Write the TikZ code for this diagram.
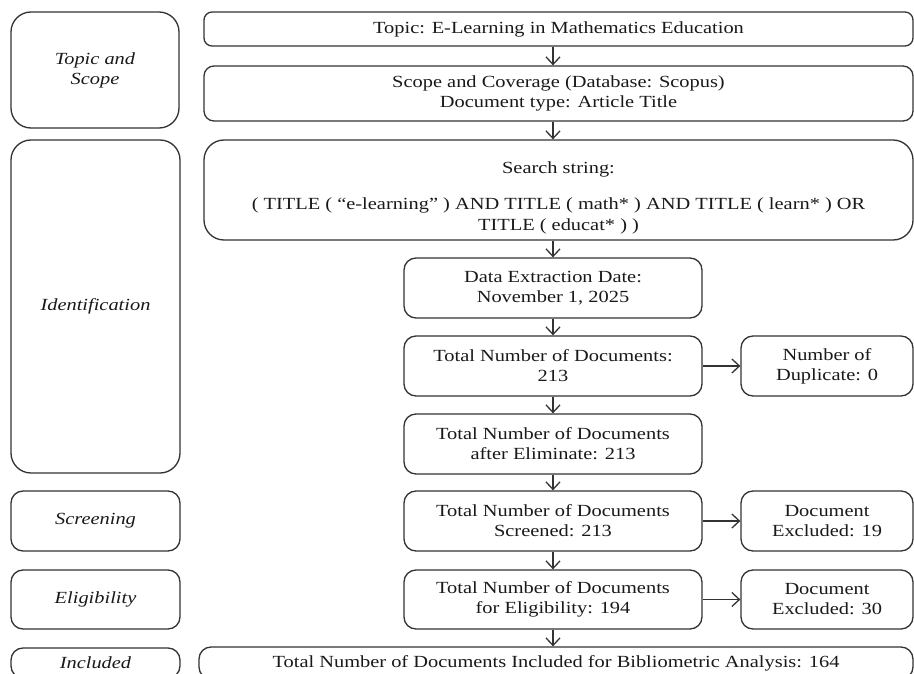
\documentclass[tikz,border=0pt]{standalone}
\usepackage{fontspec}
\setmainfont{Liberation Serif}[FakeStretch=1.2]
\usetikzlibrary{arrows.meta}
\tikzset{
  box/.style={draw=black!80, line width=1.3pt, rectangle, inner sep=0pt, align=center,
    text=black!90, font=\fontsize{17}{20}\selectfont},
  phase/.style={box, font=\fontsize{17}{20}\selectfont\itshape},
  flow/.style={draw=black!80, line width=1.3pt, -{Straight Barb[length=7.5pt,width=14pt,line width=1.3pt]}}
}
\begin{document}
\begin{tikzpicture}[x=1pt,y=-1pt]
\useasboundingbox (0,0) rectangle (914,674);
% phase labels
\node[phase, rounded corners=20pt, minimum width=168pt, minimum height=116pt] (ltopic) at (95,70) {Topic and\\Scope};
\node[phase, rounded corners=20pt, minimum width=169pt, minimum height=333pt] (lident) at (95.5,306.5) {Identification};
\node[phase, rounded corners=12pt, minimum width=169pt, minimum height=60pt] (lscreen) at (95.5,521) {Screening};
\node[phase, rounded corners=12pt, minimum width=169pt, minimum height=59pt] (lelig) at (95.5,599.5) {Eligibility};
\node[phase, rounded corners=12pt, minimum width=169pt, minimum height=30pt] (lincl) at (95.5,663) {Included};
% wide boxes
\node[box, rounded corners=8pt, minimum width=709pt, minimum height=34pt] (topic) at (558.5,29) {Topic: E-Learning in Mathematics Education};
\node[box, rounded corners=10pt, minimum width=709pt, minimum height=55pt] (scope) at (558.5,93.5) {Scope and Coverage (Database: Scopus)\\Document type: Article Title};
\node[box, rounded corners=20pt, minimum width=709pt, minimum height=100pt] (search) at (558.5,190) {\rule{0pt}{28pt}Search string:\\[16pt]( TITLE ( “e-learning” ) AND TITLE ( math* ) AND TITLE ( learn* ) OR\\[1pt]TITLE ( educat* ) )};
% centre column
\node[box, rounded corners=12pt, minimum width=298pt, minimum height=60pt] (data) at (553,288) {Data Extraction Date:\\November 1, 2025};
\node[box, rounded corners=12pt, minimum width=298pt, minimum height=60pt] (total) at (553,366) {Total Number of Documents:\\213};
\node[box, rounded corners=12pt, minimum width=298pt, minimum height=60pt] (after) at (553,444) {Total Number of Documents\\after Eliminate: 213};
\node[box, rounded corners=12pt, minimum width=298pt, minimum height=60pt] (screened) at (553,521) {Total Number of Documents\\Screened: 213};
\node[box, rounded corners=12pt, minimum width=298pt, minimum height=59pt] (elig) at (553,599.5) {Total Number of Documents\\for Eligibility: 194};
% right column
\node[box, rounded corners=12pt, minimum width=172pt, minimum height=60pt] (dup) at (827,366) {Number of\\Duplicate: 0};
\node[box, rounded corners=12pt, minimum width=172pt, minimum height=60pt] (ex19) at (827,521) {Document\\Excluded: 19};
\node[box, rounded corners=12pt, minimum width=172pt, minimum height=59pt] (ex30) at (827,599.5) {Document\\Excluded: 30};
% included
\node[box, rounded corners=12pt, minimum width=714pt, minimum height=32pt] (incl) at (556,663) {Total Number of Documents Included for Bibliometric Analysis: 164};
% connectors
\draw[flow] (topic.south -| data.center) -- (scope.north -| data.center);
\draw[flow] (scope.south -| data.center) -- (search.north -| data.center);
\draw[flow] (search.south -| data.center) -- (data.north);
\draw[flow] (data) -- (total);
\draw[flow] (total) -- (after);
\draw[flow] (after) -- (screened);
\draw[flow] (screened) -- (elig);
\draw[flow] (elig.south) -- (incl.north -| elig.south);
\draw[flow] (total) -- (dup);
\draw[flow] (screened) -- (ex19);
\draw[flow] (elig) -- (ex30);
\end{tikzpicture}
\end{document}
